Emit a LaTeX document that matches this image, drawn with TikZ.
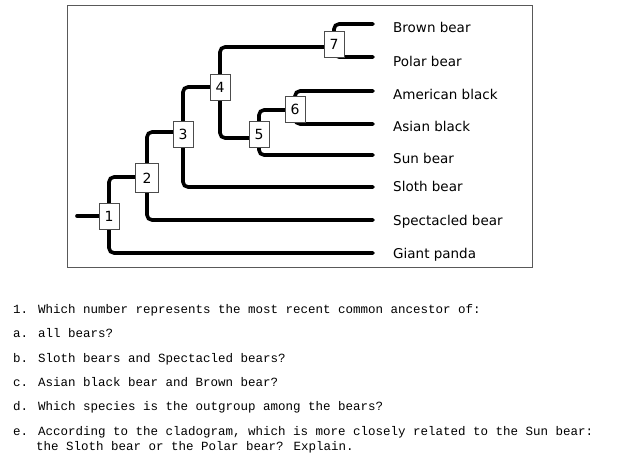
\documentclass[tikz,border=0pt]{standalone}
\usepackage{fontspec}
\setmainfont{DejaVu Sans}
\newfontfamily\qfont{Liberation Mono}
\usetikzlibrary{backgrounds,positioning}
\tikzset {
  branch/.style={draw=black,line width=3.6pt,line cap=round,rounded corners=5pt},
  clade/.style={draw=black!70,line width=0.7pt,fill=white,inner sep=0pt,
    minimum width=20pt,minimum height=26pt,font=\fontsize{14}{14}\selectfont},
  taxon/.style={anchor=west,inner sep=0pt,font=\fontsize{13.5}{14}\selectfont},
  question/.style={anchor=base west,inner sep=0pt,font=\qfont\fontsize{12.5}{15}\selectfont},
}

\begin{document}
\begin{tikzpicture}[x=1pt,y=-1pt]
  \useasboundingbox (0,0) rectangle (617,461);
  \draw[black!65,line width=0.8pt] (67,5) rectangle (532,267);

  % branch points
  \node[clade] (n1) at (109,216) {1};
  \node[clade,minimum width=23pt,minimum height=29pt] (n2) at (147,178) {2};
  \node[clade] (n3) at (183,134) {3};
  \node[clade] (n4) at (220,87) {4};
  \node[clade] (n5) at (259,134) {5};
  \node[clade] (n6) at (295,109) {6};
  \node[clade] (n7) at (334,44) {7};

  % tips
  \coordinate (root) at (77,216);
  \coordinate (tbrown) at (373,24);
  \coordinate (tpolar) at (373,57);
  \coordinate (tamerican) at (373,91);
  \coordinate (tasian) at (373,124);
  \coordinate (tsun) at (373,155);
  \coordinate (tsloth) at (373,187);
  \coordinate (tspect) at (373,220);
  \coordinate (tpanda) at (373,253);

  \node[taxon] (brown) at (393,27) {Brown bear};
  \node[taxon] (polar) at (393,61) {Polar bear};
  \node[taxon] (american) at (393,94) {American black};
  \node[taxon] (asian) at (393,126) {Asian black};
  \node[taxon] (sun) at (393,158) {Sun bear};
  \node[taxon] (sloth) at (393,186) {Sloth bear};
  \node[taxon] (spect) at (393,222) {Spectacled bear};
  \node[taxon] (panda) at (393,255) {Giant panda};

  \begin{pgfonlayer}{background}
    \draw[branch] (root) -- (n1.center);
    \draw[branch] (n1.center) |- ([yshift=1pt]n2.center) -- (n2.center);
    \draw[branch] (n1.center) |- (tpanda);
    \draw[branch] (n2.center) |- ([yshift=2pt]n3.center) -- (n3.center);
    \draw[branch] (n2.center) |- (tspect);
    \draw[branch] (n3.center) |- (n4.center);
    \draw[branch] (n3.center) |- (tsloth);
    \draw[branch] (n4.center) |- ([yshift=-3pt]n7.center) -- (n7.center);
    \draw[branch] (n4.center) |- ([yshift=-4pt]n5.center) -- (n5.center);
    \draw[branch] (n5.center) |- ([yshift=-1pt]n6.center) -- (n6.center);
    \draw[branch] (n5.center) |- (tsun);
    \draw[branch] (n6.center) |- (tamerican);
    \draw[branch] (n6.center) |- (tasian);
    \draw[branch] (n7.center) |- (tbrown);
    \draw[branch] (n7.center) |- (tpolar);
  \end{pgfonlayer}

  % questions
  \node[question] (q1) at (13,313) {1. Which number represents the most recent common ancestor of:};
  \node[question] (qa) at (13,337) {a. all bears?};
  \node[question] (qb) at (13,362) {b. Sloth bears and Spectacled bears?};
  \node[question] (qc) at (13,386) {c. Asian black bear and Brown bear?};
  \node[question] (qd) at (13,410) {d. Which species is the outgroup among the bears?};
  \node[question] (qe) at (13,435) {e. According to the cladogram, which is more closely related to the Sun bear:};
  \node[question] (qe2) at (36,450) {the Sloth bear or the Polar bear? Explain.};
\end{tikzpicture}
\end{document}
